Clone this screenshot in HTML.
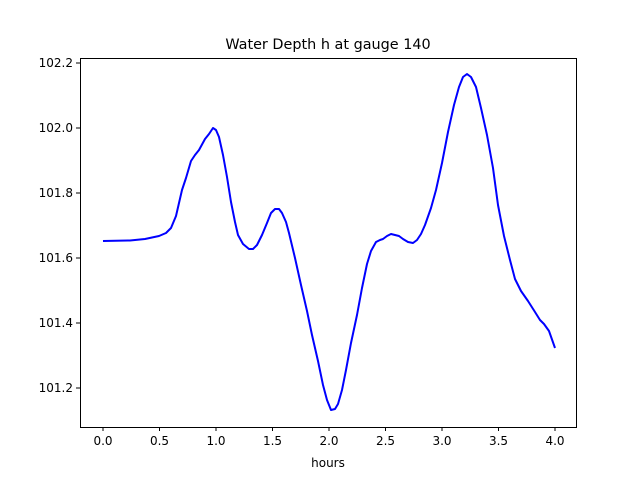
<!DOCTYPE html>
<html><head><meta charset="utf-8"><style>body{margin:0;background:#fff}svg{display:block}text{font-family:"DejaVu Sans","Liberation Sans",sans-serif;font-size:12px;fill:#000}</style></head><body>
<svg width="640" height="480" viewBox="0 0 640 480">
<rect width="640" height="480" fill="#fff"/>
<text x="328" y="49" text-anchor="middle" style="font-size:14.4px">Water Depth h at gauge 140</text>
<polyline fill="none" stroke="#0000ff" stroke-width="2" stroke-linejoin="round" points="103,241 130,240.5 145,239 159,236 166,233 171,228 176,216 182,190 186,178 191,161 195,155 199,150 205,139 209,134 213,128 216,130 219,137 223,155 227,177 231,202 235,222 238,235 243,244 249,249 253,249 257,245 262,235 267,223 271,213 275,209 279,209 282,213 286,222 289,233 295,258 301,285 307,311 312,335 318,361 323,385 327,400 331,410 335,409 338,404 342,390 346,370 351,343 357,315 362,288 367,264 371,251 376,242 380,240 383,239 387,236 391,234 395,235 399,236 403,239 408,242 413,243 417,240 421,234 425,225 431,208 436,190 442,163 448,132 454,105 459,87 463,77 467,74 471,77 476,87 481,108 487,135 493,168 498,205 504,236 510,260 515,279 521,291 528,301 535,312 540,320 544,324 549,331 555,348"/>
<rect x="80.5" y="58.5" width="496" height="369" fill="none" stroke="#000" stroke-width="1"/>
<g stroke="#000">
<line x1="103" y1="427" x2="103" y2="431"/><line x1="159.5" y1="427" x2="159.5" y2="431"/><line x1="216" y1="427" x2="216" y2="431"/><line x1="272.5" y1="427" x2="272.5" y2="431"/><line x1="329" y1="427" x2="329" y2="431"/><line x1="385.5" y1="427" x2="385.5" y2="431"/><line x1="442" y1="427" x2="442" y2="431"/><line x1="498.5" y1="427" x2="498.5" y2="431"/><line x1="555" y1="427" x2="555" y2="431"/>
<line x1="76" y1="63" x2="80" y2="63"/><line x1="76" y1="128" x2="80" y2="128"/><line x1="76" y1="193" x2="80" y2="193"/><line x1="76" y1="258" x2="80" y2="258"/><line x1="76" y1="323" x2="80" y2="323"/><line x1="76" y1="388" x2="80" y2="388"/>
</g>
<g text-anchor="middle">
<text x="103" y="445">0.0</text><text x="159.5" y="445">0.5</text><text x="216" y="445">1.0</text><text x="272.5" y="445">1.5</text><text x="329" y="445">2.0</text><text x="385.5" y="445">2.5</text><text x="442" y="445">3.0</text><text x="498.5" y="445">3.5</text><text x="555" y="445">4.0</text>
<text x="328" y="467">hours</text>
</g>
<g text-anchor="end">
<text x="73" y="67">102.2</text><text x="73" y="132">102.0</text><text x="73" y="197">101.8</text><text x="73" y="262">101.6</text><text x="73" y="327">101.4</text><text x="73" y="392">101.2</text>
</g>
</svg>
</body></html>
